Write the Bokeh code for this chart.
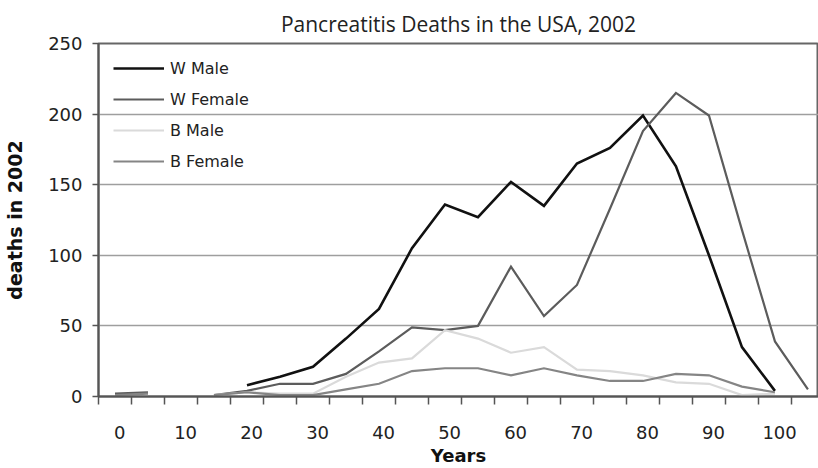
import math
from bokeh.plotting import figure
from bokeh.models import FixedTicker, Legend, LegendItem, ColumnDataSource
from bokeh.embed import file_html
from bokeh.resources import INLINE

nan = float("nan")

# ---- data (age groups in years, deaths in 2002) ----
ages = [0, 5, 10, 15, 20, 25, 30, 35, 40, 45, 50, 55, 60, 65, 70, 75, 80, 85, 90, 95, 100, 105]
w_male = [nan, nan, nan, nan, 8, 14, 21, 41, 62, 105, 136, 127, 152, 135, 165, 176, 199, 163, 100, 35, 4, nan]
w_female = [2, 3, nan, 1, 4, 9, 9, 16, 32, 49, 47, 50, 92, 57, 79, 133, 188, 215, 199, 118, 39, 5]
b_male = [nan, nan, nan, 1, 3, 2, 2, 14, 24, 27, 47, 41, 31, 35, 19, 18, 15, 10, 9, 1, 2, nan]
b_female = [1, 2, nan, 1, 3, 1, 1, 5, 9, 18, 20, 20, 15, 20, 15, 11, 11, 16, 15, 7, 3, nan]

series_names = ["W Male", "W Female", "B Male", "B Female"]
x_labels = [0, 10, 20, 30, 40, 50, 60, 70, 80, 90, 100]
y_ticks = [0, 50, 100, 150, 200, 250]

# ---- style ----
colors = ["#111111", "#5c5c5c", "#dadada", "#858585"]
widths = [2.6, 2.2, 2.2, 2.2]
label_offset = 0.7      # tick labels sit slightly right of the category
cat_half = 2.5          # tick marks lie between 5-year categories

p = figure(width=818, height=468, output_backend="svg", toolbar_location=None,
           x_range=(-2.5, 106.6), y_range=(0, 250),
           min_border_left=98, min_border_right=0, min_border_top=43, min_border_bottom=72)

p.title.text = "Pancreatitis Deaths in the USA, 2002"
p.title.text_font = "Open Sans"
p.title.text_font_size = "21px"
p.title.text_font_style = "normal"
p.title.text_color = "#222222"
p.title.align = "center"
p.title.standoff = 12

src = ColumnDataSource(dict(age=ages, wm=w_male, wf=w_female, bm=b_male, bf=b_female))
renderers = []
for key, c, w in zip(["wm", "wf", "bm", "bf"], colors, widths):
    r = p.line("age", key, source=src, line_color=c, line_width=w, line_join="miter")
    renderers.append(r)

legend = Legend(items=[LegendItem(label=n, renderers=[r]) for n, r in zip(series_names, renderers)],
                location="top_left", margin=15, padding=0, spacing=11,
                glyph_width=51, glyph_height=20, label_height=20, label_standoff=6,
                label_text_font="DejaVu Sans", label_text_font_size="16px",
                label_text_color="#222222", background_fill_alpha=0,
                border_line_color=None)
p.add_layout(legend)

# x axis
xa = p.xaxis[0]
xa.ticker = FixedTicker(ticks=[v + label_offset for v in x_labels],
                        minor_ticks=[a - cat_half for a in ages] + [ages[-1] + cat_half])
xa.major_label_overrides = {v + label_offset: str(v) for v in x_labels}
xa.major_tick_line_color = None
xa.major_tick_out = 8
xa.major_tick_in = 0
xa.minor_tick_out = 8
xa.minor_tick_in = 0
xa.minor_tick_line_color = "#555555"
xa.minor_tick_line_width = 1.5
xa.axis_line_color = "#555555"
xa.axis_line_width = 2
xa.major_label_standoff = 21
xa.major_label_text_font = "DejaVu Sans"
xa.major_label_text_font_size = "18px"
xa.major_label_text_color = "#222222"
xa.axis_label = "Years"
xa.axis_label_text_font = "DejaVu Sans"
xa.axis_label_text_font_style = "bold"
xa.axis_label_text_font_size = "18px"
xa.axis_label_text_color = "#111111"
xa.axis_label_standoff = 3

# y axis
ya = p.yaxis[0]
ya.ticker = FixedTicker(ticks=y_ticks)
ya.major_tick_out = 6
ya.major_tick_in = 0
ya.minor_tick_line_color = None
ya.major_tick_line_color = "#555555"
ya.major_tick_line_width = 1.5
ya.axis_line_color = "#555555"
ya.axis_line_width = 2
ya.major_label_standoff = 10
ya.major_label_text_font = "DejaVu Sans"
ya.major_label_text_font_size = "18px"
ya.major_label_text_color = "#222222"
ya.axis_label = "deaths in 2002"
ya.axis_label_text_font = "DejaVu Sans"
ya.axis_label_text_font_style = "bold"
ya.axis_label_text_font_size = "19px"
ya.axis_label_text_color = "#111111"
ya.axis_label_standoff = 19

p.xgrid.grid_line_color = None
p.ygrid.grid_line_color = "#9e9e9e"
p.ygrid.grid_line_width = 1.5
p.outline_line_color = "#666666"
p.outline_line_width = 2
p.background_fill_color = "white"
p.border_fill_color = "white"

open("out.html", "w").write(file_html(p, INLINE))
